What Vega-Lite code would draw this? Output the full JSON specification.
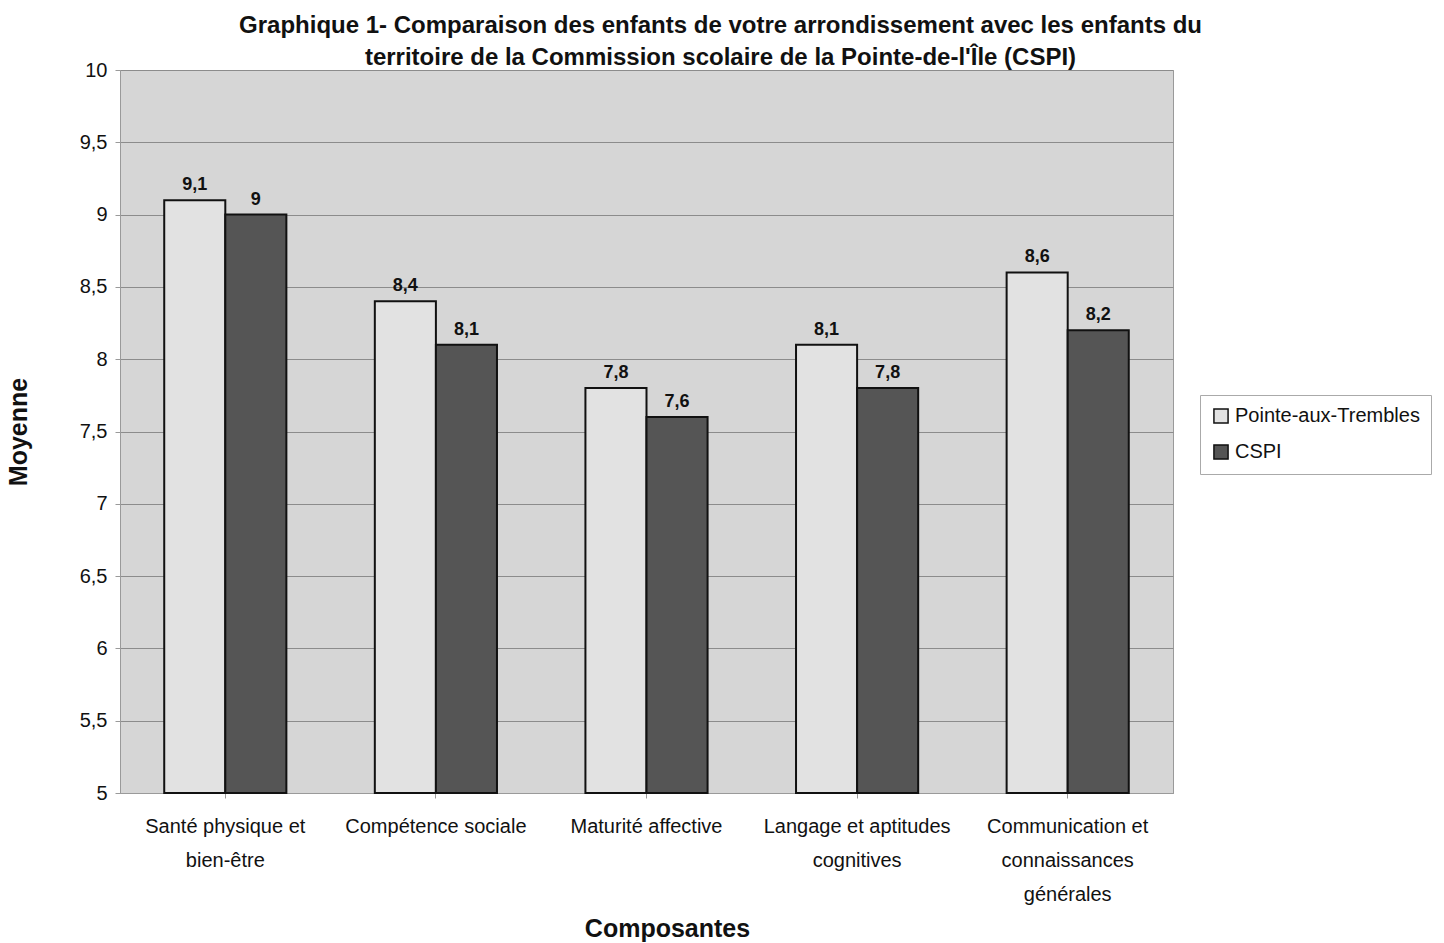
{
  "$schema": "https://vega.github.io/schema/vega-lite/v6.json",
  "width": 1053,
  "height": 723,
  "autosize": "none",
  "padding": {"left": 120, "top": 70, "right": 271, "bottom": 150},
  "background": "white",
  "config": {
    "locale": {"number": {"decimal": ",", "thousands": " ", "grouping": [3], "currency": ["", " €"]}},
    "font": "Liberation Sans",
    "view": {"fill": "#d6d6d6", "stroke": "#9a9a9a", "strokeWidth": 1}
  },
  "title": {
    "text": ["Graphique 1- Comparaison des enfants de votre arrondissement avec les enfants du", "territoire de la Commission scolaire de la Pointe-de-l'Île (CSPI)"],
    "font": "Liberation Sans",
    "fontSize": 24,
    "fontWeight": "bold",
    "color": "#111",
    "anchor": "middle",
    "dx": 74,
    "offset": -10,
    "lineHeight": 32
  },
  "data": {
    "values": [
      {"composante": "Santé physique et bien-être", "groupe": "Pointe-aux-Trembles", "moyenne": 9.1},
      {"composante": "Santé physique et bien-être", "groupe": "CSPI", "moyenne": 9.0},
      {"composante": "Compétence sociale", "groupe": "Pointe-aux-Trembles", "moyenne": 8.4},
      {"composante": "Compétence sociale", "groupe": "CSPI", "moyenne": 8.1},
      {"composante": "Maturité affective", "groupe": "Pointe-aux-Trembles", "moyenne": 7.8},
      {"composante": "Maturité affective", "groupe": "CSPI", "moyenne": 7.6},
      {"composante": "Langage et aptitudes cognitives", "groupe": "Pointe-aux-Trembles", "moyenne": 8.1},
      {"composante": "Langage et aptitudes cognitives", "groupe": "CSPI", "moyenne": 7.8},
      {"composante": "Communication et connaissances générales", "groupe": "Pointe-aux-Trembles", "moyenne": 8.6},
      {"composante": "Communication et connaissances générales", "groupe": "CSPI", "moyenne": 8.2}
    ]
  },
  "encoding": {
    "x": {
      "field": "composante",
      "type": "nominal",
      "sort": null,
      "scale": {"paddingInner": 0.42, "paddingOuter": 0.21},
      "axis": {
        "title": "Composantes",
        "titleFont": "Liberation Sans",
        "titleFontSize": 25,
        "titleFontWeight": "bold",
        "titleColor": "#111",
        "titlePadding": 12,
        "titleX": 547,
        "labelAngle": 0,
        "labelFontSize": 20,
        "labelColor": "#111",
        "labelPadding": 18,
        "labelLineHeight": 34,
        "labelLimit": 300,
        "labelExpr": "datum.value == 'Santé physique et bien-être' ? ['Santé physique et', 'bien-être'] : datum.value == 'Langage et aptitudes cognitives' ? ['Langage et aptitudes', 'cognitives'] : datum.value == 'Communication et connaissances générales' ? ['Communication et', 'connaissances', 'générales'] : datum.value",
        "ticks": true,
        "tickColor": "#9a9a9a",
        "tickSize": 5,
        "domainColor": "#9a9a9a",
        "grid": false
      }
    },
    "xOffset": {"field": "groupe", "type": "nominal", "sort": ["Pointe-aux-Trembles", "CSPI"]},
    "y": {
      "field": "moyenne",
      "type": "quantitative",
      "scale": {"domain": [5, 10], "zero": false},
      "axis": {
        "title": "Moyenne",
        "titleFont": "Liberation Sans",
        "titleFontSize": 25,
        "titleFontWeight": "bold",
        "titleColor": "#111",
        "titlePadding": 48,
        "values": [5, 5.5, 6, 6.5, 7, 7.5, 8, 8.5, 9, 9.5, 10],
        "format": ".1~f",
        "labelFontSize": 20,
        "labelColor": "#111",
        "labelPadding": 8,
        "tickColor": "#9a9a9a",
        "tickSize": 5,
        "domainColor": "#9a9a9a",
        "gridColor": "#8c8c8c",
        "gridWidth": 1
      }
    }
  },
  "layer": [
    {
      "mark": {"type": "bar", "stroke": "#111", "strokeWidth": 2},
      "encoding": {
        "y2": {"datum": 5},
        "color": {
          "field": "groupe",
          "type": "nominal",
          "sort": ["Pointe-aux-Trembles", "CSPI"],
          "scale": {"domain": ["Pointe-aux-Trembles", "CSPI"], "range": ["#e2e2e2", "#555555"]},
          "legend": {
            "title": null,
            "orient": "none",
            "legendX": 1080,
            "legendY": 325,
            "symbolType": "square",
            "symbolSize": 200,
            "symbolStrokeColor": "#111",
            "symbolStrokeWidth": 1.5,
            "labelFont": "Liberation Sans",
            "labelFontSize": 20,
            "labelColor": "#111",
            "labelLimit": 300,
            "rowPadding": 14,
            "padding": 11,
            "strokeColor": "#aaaaaa",
            "fillColor": "white"
          }
        }
      }
    },
    {
      "mark": {"type": "text", "dy": -15, "fontSize": 18, "fontWeight": "bold", "font": "Liberation Sans", "color": "#111"},
      "encoding": {
        "text": {"field": "moyenne", "type": "quantitative", "format": ".1~f"}
      }
    }
  ]
}
